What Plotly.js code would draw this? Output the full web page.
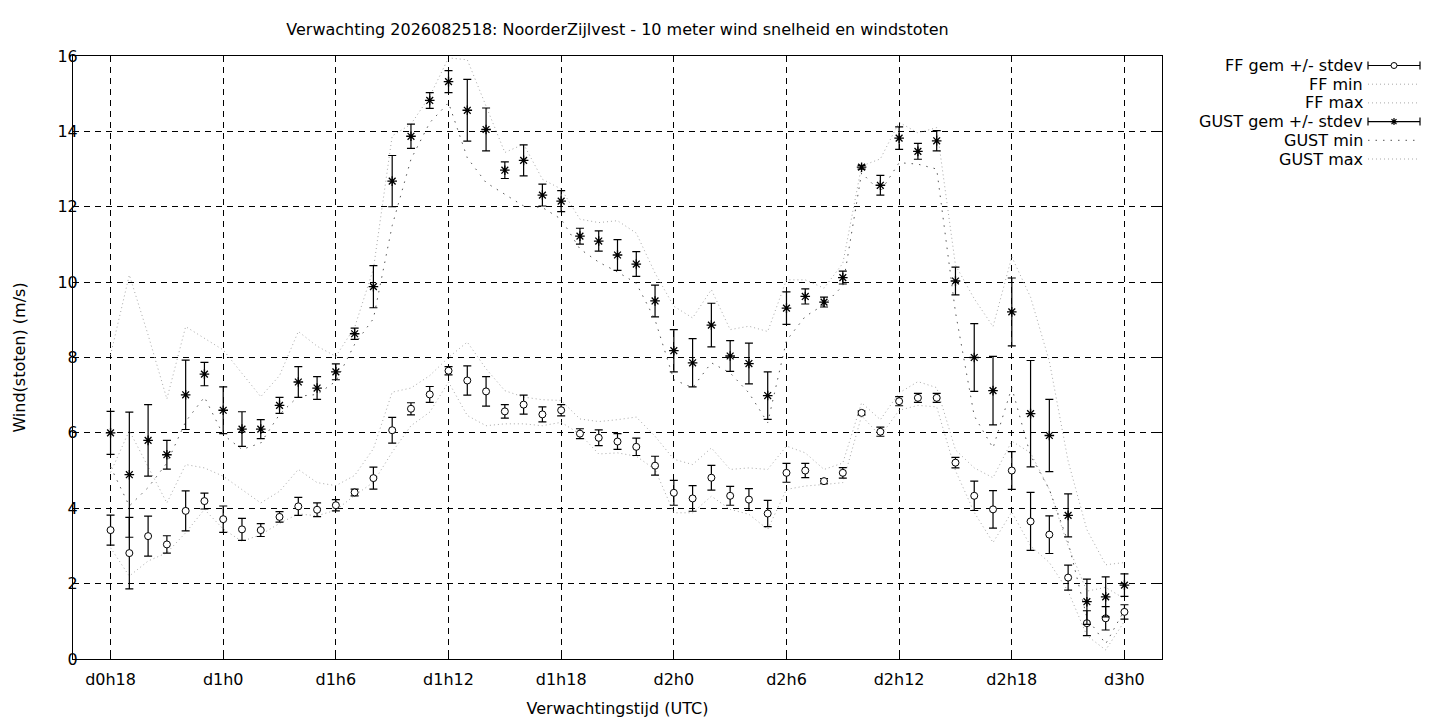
<!DOCTYPE html>
<html>
<head>
<meta charset="utf-8">
<script src="https://cdn.plot.ly/plotly-3.0.1.min.js"></script>
<style>
  html, body { margin: 0; padding: 0; background: #fff; }
  #chart { width: 1440px; height: 720px; }
</style>
</head>
<body>
<div id="chart"></div>
<script>
// forecast hours (hours after d0h0)
const hours = [18, 19, 20, 21, 22, 23, 24, 25, 26, 27, 28, 29, 30, 31, 32, 33, 34, 35, 36, 37,
    38, 39, 40, 41, 42, 43, 44, 45, 46, 47, 48, 49, 50, 51, 52, 53, 54, 55, 56, 57,
    58, 59, 60, 61, 62, 63, 64, 65, 66, 67, 68, 69, 70, 71, 72];

const tickHours = [18, 24, 30, 36, 42, 48, 54, 60, 66, 72];
const tickLabels = ['d0h18', 'd1h0', 'd1h6', 'd1h12', 'd1h18', 'd2h0', 'd2h6', 'd2h12', 'd2h18', 'd3h0'];

const ffMean = [3.42, 2.81, 3.26, 3.04, 3.93, 4.19, 3.71, 3.44, 3.42, 3.77, 4.05, 3.96, 4.08, 4.42, 4.80,
    6.07, 6.64, 7.02, 7.65, 7.39, 7.10, 6.57, 6.75, 6.49, 6.60, 5.98, 5.87, 5.77, 5.63, 5.13,
    4.41, 4.26, 4.81, 4.33, 4.23, 3.86, 4.94, 5.00, 4.72, 4.94, 6.53, 6.03, 6.84, 6.93, 6.93,
    5.21, 4.33, 3.97, 5.00, 3.65, 3.30, 2.16, 0.95, 1.08, 1.25];
const ffStdev = [0.40, 0.95, 0.53, 0.23, 0.53, 0.21, 0.35, 0.29, 0.17, 0.14, 0.24, 0.18, 0.15, 0.09, 0.29,
    0.34, 0.16, 0.21, 0.11, 0.39, 0.39, 0.18, 0.25, 0.20, 0.15, 0.13, 0.21, 0.21, 0.23, 0.25,
    0.33, 0.34, 0.33, 0.25, 0.29, 0.35, 0.25, 0.19, 0.07, 0.14, 0.05, 0.12, 0.12, 0.12, 0.12,
    0.14, 0.39, 0.50, 0.50, 0.77, 0.50, 0.33, 0.33, 0.31, 0.19];
const ffMin = [2.95, 2.20, 2.60, 2.82, 3.35, 3.97, 3.45, 3.12, 3.30, 3.60, 3.85, 3.80, 3.95, 4.34, 4.69,
    5.49, 6.19, 6.55, 7.35, 6.46, 6.19, 6.24, 6.24, 6.19, 6.28, 5.97, 5.44, 5.47, 5.38, 5.03,
    3.88, 3.88, 4.32, 3.97, 3.84, 3.44, 4.50, 4.59, 4.63, 4.68, 6.45, 5.92, 6.60, 6.73, 6.69,
    5.00, 3.89, 3.09, 3.90, 3.00, 2.56, 1.80, 0.62, 0.24, 1.00];
const ffMax = [4.95, 6.06, 5.10, 4.14, 5.16, 5.07, 4.85, 4.50, 4.14, 4.45, 5.03, 4.68, 4.60, 4.87, 5.58,
    7.08, 7.19, 7.52, 8.00, 8.41, 7.70, 7.12, 6.95, 6.88, 6.86, 6.37, 6.30, 6.35, 6.42, 5.91,
    5.30, 5.16, 5.60, 5.03, 5.07, 5.03, 5.65, 5.47, 5.03, 5.20, 6.80, 6.35, 7.06, 7.36, 7.20,
    5.55, 5.07, 4.81, 5.78, 5.47, 4.50, 3.00, 1.80, 1.90, 1.60];

const gustMean = [6.00, 4.89, 5.80, 5.42, 7.01, 7.56, 6.60, 6.10, 6.10, 6.73, 7.35, 7.19, 7.62, 8.63, 9.88,
    12.68, 13.87, 14.82, 15.32, 14.56, 14.05, 12.97, 13.23, 12.31, 12.15, 11.22, 11.09, 10.72, 10.48, 9.50,
    8.18, 7.86, 8.86, 8.04, 7.84, 6.99, 9.31, 9.62, 9.47, 10.12, 13.05, 12.57, 13.82, 13.47, 13.75,
    10.03, 8.00, 7.12, 9.21, 6.51, 5.93, 3.81, 1.52, 1.65, 1.96];
const gustStdev = [0.57, 1.66, 0.95, 0.38, 0.92, 0.31, 0.62, 0.46, 0.25, 0.21, 0.41, 0.30, 0.21, 0.15, 0.56,
    0.68, 0.32, 0.21, 0.29, 0.82, 0.57, 0.22, 0.41, 0.29, 0.28, 0.21, 0.27, 0.41, 0.33, 0.42,
    0.56, 0.64, 0.58, 0.41, 0.54, 0.63, 0.43, 0.20, 0.13, 0.17, 0.05, 0.26, 0.30, 0.21, 0.27,
    0.37, 0.90, 0.91, 0.90, 1.41, 0.96, 0.57, 0.60, 0.53, 0.30];
const gustMin = [5.10, 4.06, 4.55, 5.20, 6.30, 6.95, 5.95, 5.56, 5.73, 6.49, 6.97, 7.02, 7.37, 8.35, 9.03,
    11.50, 13.26, 14.23, 14.76, 13.30, 12.64, 12.33, 12.02, 11.98, 11.67, 10.88, 10.53, 10.27, 9.97, 9.00,
    7.41, 7.20, 7.86, 7.59, 7.06, 6.27, 8.45, 9.09, 9.40, 9.90, 12.90, 12.40, 13.17, 13.13, 13.00,
    9.20, 6.45, 5.60, 7.20, 5.40, 4.50, 3.10, 1.10, 0.40, 1.30];
const gustMax = [8.07, 10.19, 8.60, 6.90, 8.82, 8.51, 8.20, 7.58, 6.96, 7.52, 8.69, 8.30, 8.03, 8.80, 10.35,
    13.88, 14.19, 14.93, 15.95, 15.90, 14.67, 13.44, 13.66, 12.73, 12.47, 11.67, 11.58, 11.63, 11.30, 10.24,
    9.36, 9.05, 9.80, 8.74, 8.83, 8.69, 10.06, 10.06, 9.84, 10.50, 13.08, 13.27, 14.24, 13.96, 14.10,
    10.45, 9.56, 8.82, 10.67, 9.60, 7.90, 5.25, 3.43, 2.50, 2.56];

const FONT = 'DejaVu Sans, Verdana, sans-serif';
const FS = 16;
const lightGrey = '#a8a8a8';
const darkGrey = '#555555';
const lightDash = '1px,3px';
const darkDash = '1.5px,6px';

function dottedTrace(name, y, color, dash) {
    return {
        x: hours, y: y, name: name,
        type: 'scatter', mode: 'lines',
        line: { color: color, width: 1, dash: dash },
        hoverinfo: 'x+y+name'
    };
}

function errorTrace(name, y, err, symbol, fill, size, lw) {
    return {
        x: hours, y: y, name: name,
        type: 'scatter', mode: 'markers',
        marker: { symbol: symbol, size: size, color: fill, line: { color: '#000', width: lw } },
        error_y: { type: 'data', array: err, visible: true, color: '#000', thickness: 1.2, width: 4 }
    };
}

const data = [
    dottedTrace('FF min', ffMin, lightGrey, lightDash),
    dottedTrace('FF max', ffMax, lightGrey, lightDash),
    dottedTrace('GUST min', gustMin, darkGrey, darkDash),
    dottedTrace('GUST max', gustMax, lightGrey, lightDash),
    errorTrace('FF gem +/- stdev', ffMean, ffStdev, 'circle', '#fff', 7, 1),
    errorTrace('GUST gem +/- stdev', gustMean, gustStdev, 'asterisk-open', '#000', 8, 1.3)
];

// plot area in pixels
const plotL = 73, plotR = 1162, plotT = 56, plotB = 659;
const pw = plotR - plotL, ph = plotB - plotT;
const px2paperX = p => (p - plotL) / pw;
const px2paperY = p => (plotB - p) / ph;

// hand-made legend: text left, key right (gnuplot style)
const legendRows = [
    { label: 'FF gem +/- stdev', kind: 'err', sym: 'circle' },
    { label: 'FF min', kind: 'line', color: lightGrey, dash: lightDash },
    { label: 'FF max', kind: 'line', color: lightGrey, dash: lightDash },
    { label: 'GUST gem +/- stdev', kind: 'err', sym: 'asterisk' },
    { label: 'GUST min', kind: 'line', color: darkGrey, dash: darkDash },
    { label: 'GUST max', kind: 'line', color: lightGrey, dash: lightDash }
];
const legendTop = 65.5, legendStep = 18.7, textRight = 1365, keyCenter = 1394, keyHalf = 26;

const shapes = [];
const annotations = [];
legendRows.forEach((row, i) => {
    const yp = px2paperY(legendTop + i * legendStep);
    const xa = px2paperX(keyCenter);
    annotations.push({
        xref: 'paper', yref: 'paper', x: px2paperX(textRight), y: yp,
        xanchor: 'right', yanchor: 'middle', showarrow: false,
        text: row.label, font: { family: FONT, size: FS, color: '#000' }
    });
    const base = { xref: 'paper', yref: 'paper', xsizemode: 'pixel', ysizemode: 'pixel', xanchor: xa, yanchor: yp };
    if (row.kind === 'line') {
        shapes.push(Object.assign({}, base, { type: 'line', x0: -keyHalf, x1: keyHalf, y0: 0, y1: 0,
            line: { color: row.color, width: 1, dash: row.dash } }));
    } else {
        shapes.push(Object.assign({}, base, { type: 'line', x0: -keyHalf, x1: keyHalf, y0: 0, y1: 0, line: { color: '#000', width: 1.2 } }));
        shapes.push(Object.assign({}, base, { type: 'line', x0: -keyHalf, x1: -keyHalf, y0: -4, y1: 4, line: { color: '#000', width: 1.2 } }));
        shapes.push(Object.assign({}, base, { type: 'line', x0: keyHalf, x1: keyHalf, y0: -4, y1: 4, line: { color: '#000', width: 1.2 } }));
        if (row.sym === 'circle') {
            shapes.push(Object.assign({}, base, { type: 'circle', x0: -3, x1: 3, y0: -3, y1: 3,
                fillcolor: '#fff', line: { color: '#000', width: 1 } }));
        } else {
            shapes.push(Object.assign({}, base, { type: 'path',
                path: 'M-3.5,0H3.5M0,-3.5V3.5M-2.5,-2.5L2.5,2.5M-2.5,2.5L2.5,-2.5',
                line: { color: '#000', width: 1.2 } }));
        }
    }
});

const axisCommon = {
    showline: true, linecolor: '#000', linewidth: 1, mirror: 'ticks',
    ticks: 'inside', ticklen: 6, tickcolor: '#000', tickwidth: 1,
    showgrid: true, gridcolor: '#000', gridwidth: 1, griddash: '6px,5px',
    zeroline: false, tickfont: { family: FONT, size: FS, color: '#000' }
};

const layout = {
    width: 1440, height: 720,
    margin: { l: plotL, r: 1440 - plotR, t: plotT, b: 720 - plotB },
    paper_bgcolor: '#fff', plot_bgcolor: '#fff',
    font: { family: FONT, size: FS, color: '#000' },
    showlegend: false,
    title: {
        text: 'Verwachting 2026082518: NoorderZijlvest - 10 meter wind snelheid en windstoten',
        xref: 'paper', x: 0.5, xanchor: 'center',
        yref: 'container', y: 1 - 29 / 720, yanchor: 'middle',
        font: { family: FONT, size: FS, color: '#000' }
    },
    xaxis: Object.assign({}, axisCommon, {
        range: [16, 74], tickvals: tickHours, ticktext: tickLabels,
        ticklabelstandoff: 6,
        title: { text: 'Verwachtingstijd (UTC)', standoff: 14, font: { family: FONT, size: FS } },
        automargin: false
    }),
    yaxis: Object.assign({}, axisCommon, {
        range: [0, 16], dtick: 2, tick0: 0,
        ticklabelstandoff: -9,
        title: { text: 'Wind(stoten) (m/s)', standoff: 27, font: { family: FONT, size: FS } },
        automargin: false
    }),
    shapes: shapes,
    annotations: annotations
};

Plotly.newPlot('chart', data, layout, { displayModeBar: false, staticPlot: true });
</script>
</body>
</html>
